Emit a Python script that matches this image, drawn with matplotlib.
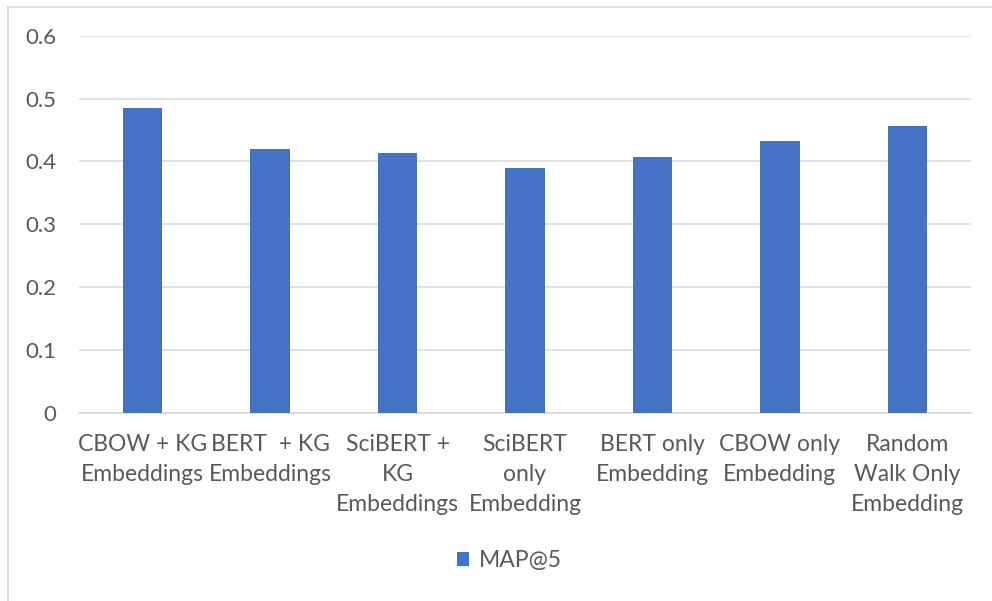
import matplotlib.pyplot as plt
from matplotlib.lines import Line2D
from matplotlib.patches import Patch

plt.rcParams['font.family'] = ['Lato', 'DejaVu Sans']

# MAP@5 per embedding setup
categories = ['CBOW + KG\nEmbeddings', 'BERT  + KG\nEmbeddings', 'SciBERT +\nKG\nEmbeddings',
              'SciBERT\nonly\nEmbedding', 'BERT only\nEmbedding', 'CBOW only\nEmbedding',
              'Random\nWalk Only\nEmbedding']
map5 = [0.485, 0.420, 0.413, 0.390, 0.407, 0.433, 0.456]
yticks = [0, 0.1, 0.2, 0.3, 0.4, 0.5, 0.6]
ytick_labels = ['0', '0.1', '0.2', '0.3', '0.4', '0.5', '0.6']

bar_color = '#4472C4'
grid_color = '#d9d9d9'
text_color = '#595959'

fig = plt.figure(figsize=(9.92, 6.01), dpi=100)
ax = fig.add_axes([0.0796, 0.3128, 0.8992, 0.6278])

x = range(len(categories))
ax.bar(x, map5, width=0.31, color=bar_color, zorder=3, label='MAP@5')

ax.set_ylim(0, 0.6)
ax.set_xlim(-0.5, len(categories) - 0.5)
ax.set_yticks(yticks)
ax.set_yticklabels(ytick_labels)
ax.set_xticks(list(x))
ax.set_xticklabels(categories, linespacing=1.52)

ax.grid(axis='y', color=grid_color, linewidth=1.1, zorder=0)
for s in ['top', 'right', 'left']:
    ax.spines[s].set_visible(False)
ax.spines['bottom'].set_color(grid_color)
ax.spines['bottom'].set_linewidth(1.1)

ax.tick_params(axis='y', length=0, pad=16, labelsize=16, labelcolor=text_color)
ax.tick_params(axis='x', length=0, pad=15, labelsize=16.5, labelcolor=text_color)

# chart area border (top and left edges)
fig.add_artist(Line2D([8 / 992, 1.0], [1 - 7 / 601, 1 - 7 / 601], color=grid_color,
                      linewidth=1.2, transform=fig.transFigure))
fig.add_artist(Line2D([8 / 992, 8 / 992], [0.0, 1 - 7 / 601], color=grid_color,
                      linewidth=1.2, transform=fig.transFigure))

handle = Patch(facecolor=bar_color, edgecolor='none')
fig.legend([handle], ['MAP@5'], loc='center', bbox_to_anchor=(509 / 992, 1 - 561 / 601),
           frameon=False, fontsize=16.5, labelcolor=text_color,
           handlelength=0.55, handleheight=0.55, handletextpad=0.4)

fig.savefig('out.png', dpi=100)
